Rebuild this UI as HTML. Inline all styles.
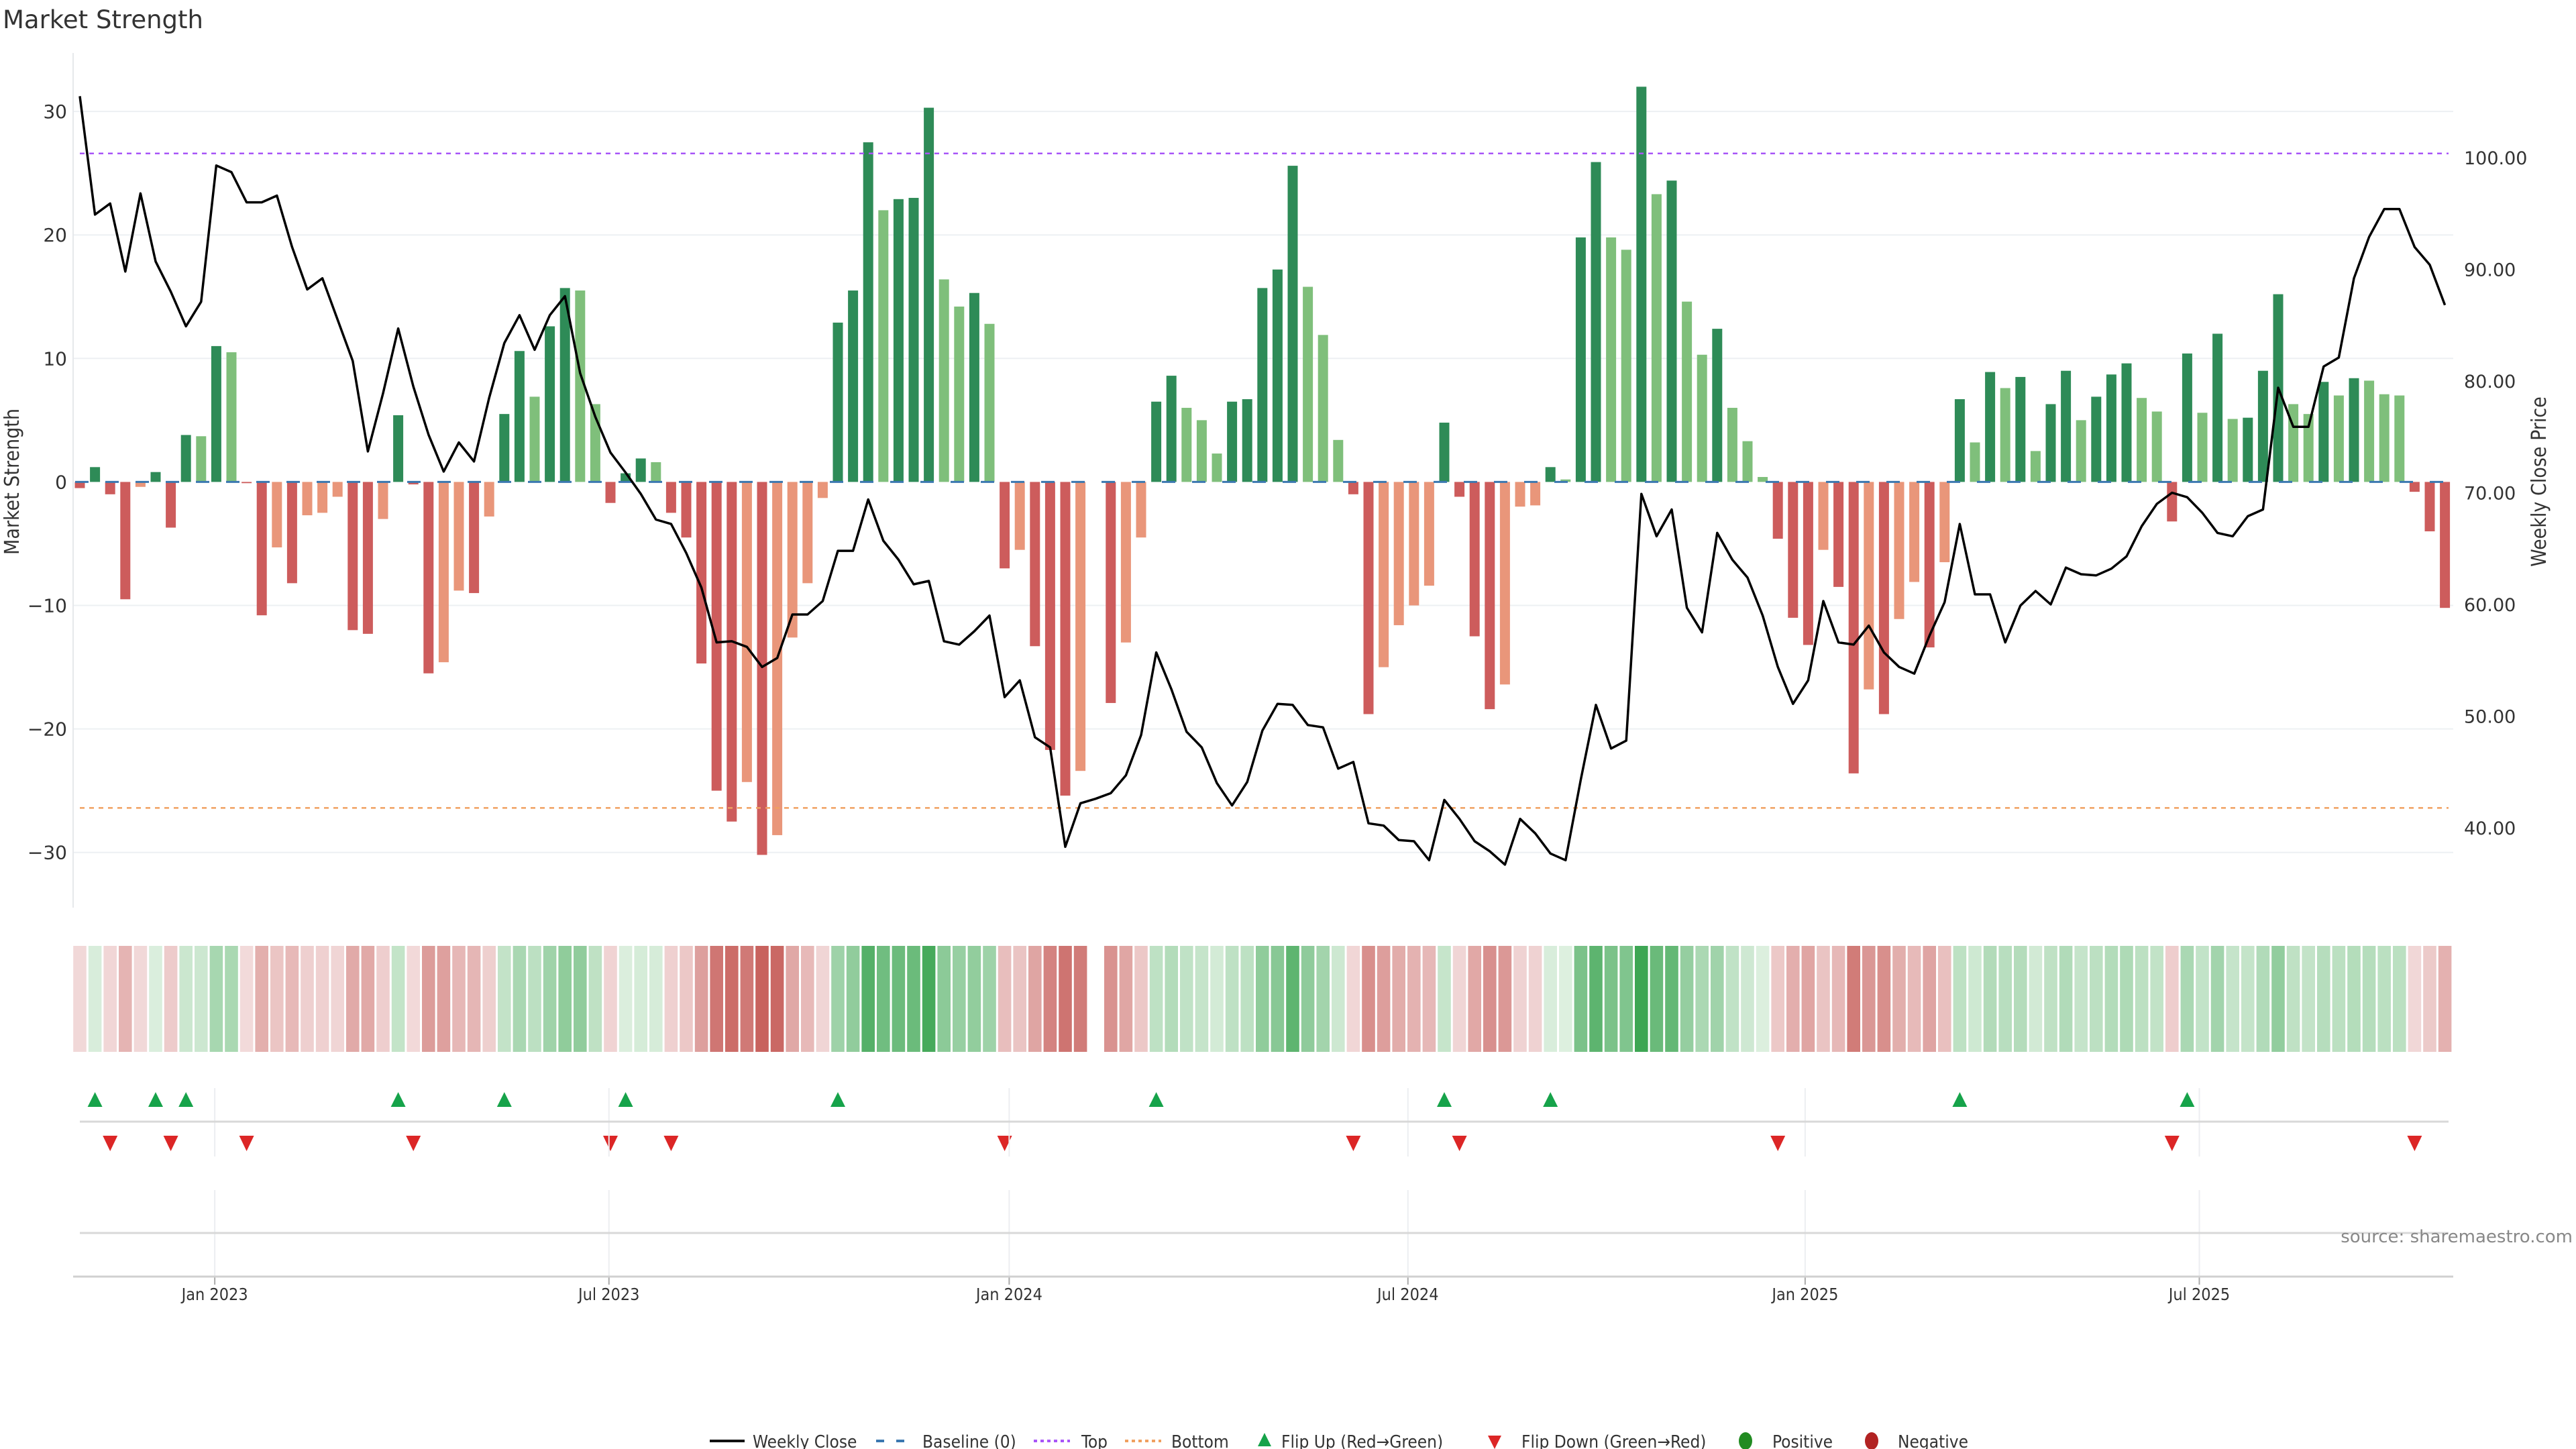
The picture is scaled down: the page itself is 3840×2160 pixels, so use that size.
<!DOCTYPE html>
<html><head><meta charset="utf-8"><title>Market Strength</title>
<style>
html,body{margin:0;padding:0;background:#fff;}
svg{display:block;}
text{font-family:"DejaVu Sans","Liberation Sans",sans-serif;}
.narrow{font-family:"Liberation Sans Narrow","DejaVu Sans Condensed","Liberation Sans",sans-serif;}
</style></head>
<body>
<svg id="chart" xmlns="http://www.w3.org/2000/svg" width="3840" height="2160" viewBox="0 0 3840 2160">
<rect x="0" y="0" width="3840" height="2160" fill="#fff"/>
<text x="4" y="42" font-size="37" fill="#333">Market Strength</text>
<g id="grid"></g>
<g id="bars"></g>
<g id="refs"></g>
<g id="line"></g>
<g id="axes"></g>
<g id="heat"></g>
<g id="flips"></g>
<g id="xaxis"></g>
<text x="3835" y="1852" font-size="26" fill="#888" text-anchor="end">source: sharemaestro.com</text>
<g id="legend"></g>
</svg>
<script>
const strength = [-0.5,1.2,-1,-9.5,-0.4,0.8,-3.7,3.8,3.7,11,10.5,-0.1,-10.8,-5.3,-8.2,-2.7,-2.5,-1.2,-12,-12.3,-3,5.4,-0.2,-15.5,-14.6,-8.8,-9,-2.8,5.5,10.6,6.9,12.6,15.7,15.5,6.3,-1.7,0.7,1.9,1.6,-2.5,-4.5,-14.7,-25,-27.5,-24.3,-30.2,-28.6,-12.6,-8.2,-1.3,12.9,15.5,27.5,22,22.9,23,30.3,16.4,14.2,15.3,12.8,-7,-5.5,-13.3,-21.7,-25.4,-23.4,null,-17.9,-13,-4.5,6.5,8.6,6,5,2.3,6.5,6.7,15.7,17.2,25.6,15.8,11.9,3.4,-1,-18.8,-15,-11.6,-10,-8.4,4.8,-1.2,-12.5,-18.4,-16.4,-2,-1.9,1.2,0.2,19.8,25.9,19.8,18.8,32,23.3,24.4,14.6,10.3,12.4,6,3.3,0.4,-4.6,-11,-13.2,-5.5,-8.5,-23.6,-16.8,-18.8,-11.1,-8.1,-13.4,-6.5,6.7,3.2,8.9,7.6,8.5,2.5,6.3,9,5,6.9,8.7,9.6,6.8,5.7,-3.2,10.4,5.6,12,5.1,5.2,9,15.2,6.3,5.5,8.1,7,8.4,8.2,7.1,7,-0.8,-4,-10.2];
const closePrice = [105.5,94.9,95.9,89.8,96.8,90.7,88,84.9,87.1,99.3,98.7,96,96,96.6,92,88.2,89.2,85.5,81.8,73.7,78.9,84.7,79.5,75.2,71.9,74.5,72.8,78.5,83.4,85.9,82.8,85.9,87.6,80.7,76.8,73.6,71.8,69.9,67.6,67.2,64.6,61.5,56.6,56.7,56.2,54.4,55.2,59.1,59.1,60.3,64.8,64.8,69.4,65.7,64,61.8,62.1,56.7,56.4,57.6,59,51.7,53.2,48.1,47.2,38.3,42.2,42.6,43.1,44.7,48.3,55.7,52.4,48.6,47.2,44,42,44.1,48.7,51.1,51,49.2,49,45.3,45.9,40.4,40.2,38.9,38.8,37.1,42.5,40.8,38.8,37.9,36.7,40.8,39.5,37.7,37.1,44.3,51,47.1,47.8,69.9,66.1,68.5,59.7,57.5,66.4,64,62.4,59,54.4,51.1,53.2,60.3,56.6,56.4,58.1,55.7,54.4,53.8,57.2,60.2,67.2,60.9,60.9,56.6,59.9,61.2,60,63.3,62.7,62.6,63.2,64.3,67,69,70,69.6,68.2,66.4,66.1,67.9,68.5,79.4,75.9,75.9,81.3,82.1,89.2,92.9,95.4,95.4,92,90.4,86.8];
const leftTicks = [30,20,10,0,-10,-20,-30];
const rightTicks = [100,90,80,70,60,50,40];
const dateLabels = ["Jan 2023","Jul 2023","Jan 2024","Jul 2024","Jan 2025","Jul 2025"];
const dateIndex = [8.9,34.9,61.3,87.6,113.8,139.8];
const topLevel = 26.6;
const bottomLevel = -26.4;

const NS="http://www.w3.org/2000/svg";
const X0=119, STEP=22.6;
function xS(i){return X0+i*STEP;}
function yL(v){return 718.4-v*18.41;}
function yR(p){return 235+(100-p)*16.65;}
function mk(tag,attrs,parent){const e=document.createElementNS(NS,tag);for(const k in attrs)e.setAttribute(k,attrs[k]);parent.appendChild(e);return e;}
const G=id=>document.getElementById(id);

// grid
leftTicks.forEach(t=>{
  if(t===0)return;
  const l=mk('line',{x1:109,x2:3657,y1:yL(t),y2:yL(t),stroke:'#edf0f3','stroke-width':2},G('grid'));
  
  
});
// left axis line
const al=mk('line',{x1:109,x2:109,y1:79,y2:1353,stroke:'#e6e8eb','stroke-width':2},G('axes'));



// bars
let prev=null;
strength.forEach((v,i)=>{
  if(v===null){prev=null;return;}
  let grow = prev===null || Math.sign(v)!==Math.sign(prev) || Math.abs(v)>=Math.abs(prev);
  let col = v>=0 ? (grow?'#2e8b57':'#7fbf7b') : (grow?'#cd5c5c':'#e9967a');
  const y0=yL(0), y1=yL(v);
  const r=mk('rect',{x:xS(i)-7.5,width:15,y:Math.min(y0,y1),height:Math.max(1,Math.abs(y1-y0)),fill:col},G('bars'));
  
  
  prev=v;
});
// baseline + refs
const bl=mk('line',{x1:112,x2:3650,y1:yL(0),y2:yL(0),stroke:'#3b78b0','stroke-width':3,'stroke-dasharray':'20 25'},G('refs'));


const tl=mk('line',{x1:119,x2:3650,y1:yL(topLevel),y2:yL(topLevel),stroke:'#a855f7','stroke-width':2.5,'stroke-dasharray':'7 7'},G('refs'));


const btl=mk('line',{x1:119,x2:3650,y1:yL(bottomLevel),y2:yL(bottomLevel),stroke:'#f0a060','stroke-width':2.5,'stroke-dasharray':'7 7'},G('refs'));



// price line
const pts=closePrice.map((p,i)=>xS(i).toFixed(1)+','+yR(p).toFixed(1)).join(' ');
const pl=mk('polyline',{points:pts,fill:'none',stroke:'#000','stroke-width':3.5,'stroke-linejoin':'round'},G('line'));



// ticks
leftTicks.forEach(t=>{
  const e=mk('text',{x:100,y:yL(t)+10,'font-size':28,fill:'#333','text-anchor':'end'},G('axes'));
  e.textContent=(t<0?'\u2212'+(-t):String(t));
  
  
});
rightTicks.forEach(t=>{
  const e=mk('text',{x:3673,y:yR(t)+10,'font-size':27,fill:'#333'},G('axes'));
  e.textContent=t.toFixed(2);
  
  
});
const lt=mk('text',{x:0,y:0,'font-size':30,fill:'#333','text-anchor':'middle',transform:'translate(28,718) rotate(-90)',class:'narrow'},G('axes'));
lt.textContent='Market Strength';


const rt=mk('text',{x:0,y:0,'font-size':30,fill:'#333','text-anchor':'middle',transform:'translate(3795,718) rotate(-90)',class:'narrow'},G('axes'));
rt.textContent='Weekly Close Price';



// heat strip
function lerp(a,b,t){return Math.round(a+(b-a)*t);}
strength.forEach((v,i)=>{
  if(v===null)return;
  let c;
  if(v>=0){const t=Math.min(1,v/32);c=`rgb(${lerp(222,62,t)},${lerp(240,166,t)},${lerp(224,84,t)})`;}
  else{const t=Math.min(1,-v/30);c=`rgb(${lerp(242,200,t)},${lerp(218,98,t)},${lerp(218,94,t)})`;}
  const r=mk('rect',{x:xS(i)-STEP/2+1.5,width:STEP-3,y:1410,height:158,fill:c},G('heat'));
  
  
});

// x axis + panels
dateIndex.forEach((di,k)=>{
  const x=xS(di);
  const g1=mk('line',{x1:x,x2:x,y1:1622,y2:1724,stroke:'#eceef1','stroke-width':2},G('xaxis'));
  
  
  const g2=mk('line',{x1:x,x2:x,y1:1774,y2:1903,stroke:'#eceef1','stroke-width':2},G('xaxis'));
  
  
  const tk=mk('line',{x1:x,x2:x,y1:1903,y2:1915,stroke:'#aaa','stroke-width':2},G('xaxis'));
  
  
  const t=mk('text',{x:x,y:1938,'font-size':25,fill:'#333','text-anchor':'middle',class:'narrow'},G('xaxis'));
  t.textContent=dateLabels[k];
  
  
});
const d1=mk('line',{x1:119,x2:3650,y1:1672,y2:1672,stroke:'#d8d8d8','stroke-width':3},G('xaxis'));


const d2=mk('line',{x1:119,x2:3650,y1:1838,y2:1838,stroke:'#d8d8d8','stroke-width':3},G('xaxis'));


const d3=mk('line',{x1:109,x2:3657,y1:1903,y2:1903,stroke:'#d0d0d0','stroke-width':3},G('xaxis'));



// flips derived from sign changes
let last=null;
strength.forEach((v,i)=>{
  if(v===null)return;
  const s=v>=0?1:-1;
  if(last!==null && s!==last){
    const x=xS(i);
    if(s>0){
      const p=mk('polygon',{points:`${x},${1628} ${x-11},${1650} ${x+11},${1650}`,fill:'#16a34a'},G('flips'));
      
      
    }else{
      const p=mk('polygon',{points:`${x-11},${1693} ${x+11},${1693} ${x},${1716}`,fill:'#dc2626'},G('flips'));
      
      
    }
  }
  last=s;
});

// legend
const L=G('legend');
function lt2(x,txt,name){const t=mk('text',{x:x,y:2158,'font-size':26,fill:'#333',class:'narrow'},L);t.textContent=txt;}
let e;
e=mk('line',{x1:1058,x2:1110,y1:2148,y2:2148,stroke:'#111','stroke-width':4},L);
lt2(1122,'Weekly Close','legend-weekly-close');
e=mk('line',{x1:1306,x2:1360,y1:2148,y2:2148,stroke:'#3b78b0','stroke-width':4,'stroke-dasharray':'12 18'},L);
lt2(1375,'Baseline (0)','legend-baseline');
e=mk('line',{x1:1541,x2:1595,y1:2148,y2:2148,stroke:'#a855f7','stroke-width':4,'stroke-dasharray':'5 5'},L);
lt2(1612,'Top','legend-top');
e=mk('line',{x1:1677,x2:1731,y1:2148,y2:2148,stroke:'#f0a060','stroke-width':4,'stroke-dasharray':'5 5'},L);
lt2(1746,'Bottom','legend-bottom');
e=mk('polygon',{points:'1885,2136 1875,2156 1895,2156',fill:'#16a34a'},L);
lt2(1910,'Flip Up (Red\u2192Green)','legend-flip-up');
e=mk('polygon',{points:'2218,2140 2238,2140 2228,2160',fill:'#dc2626'},L);
lt2(2268,'Flip Down (Green\u2192Red)','legend-flip-down');
e=mk('ellipse',{cx:2602,cy:2148,rx:10,ry:13,fill:'#228b22'},L);
lt2(2642,'Positive','legend-positive');
e=mk('ellipse',{cx:2790,cy:2148,rx:10,ry:13,fill:'#b22222'},L);
lt2(2829,'Negative','legend-negative');
</script>
</body></html>
